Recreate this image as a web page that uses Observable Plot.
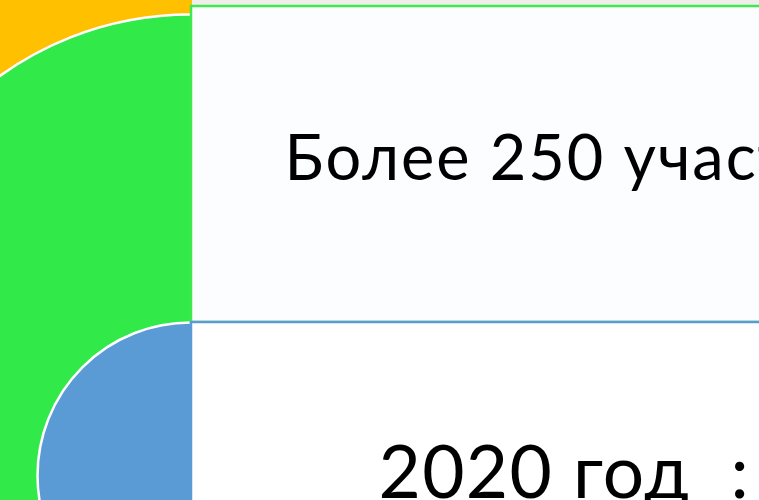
<!DOCTYPE html>
<html>
<head>
<meta charset="utf-8">
<script src="https://cdn.jsdelivr.net/npm/d3@7"></script>
<script src="https://cdn.jsdelivr.net/npm/@observablehq/plot@0.6"></script>
<style>
  html, body { margin: 0; padding: 0; background: #ffffff; overflow: hidden; }
  #chart svg { display: block; }
  .lbl-0 text { letter-spacing: 2px; }
  .lbl-1 text { letter-spacing: 1.3px; }
</style>
</head>
<body>
<div id="chart"></div>
<script>
// Slide content (text) and shape descriptors
const labels = ["Более 250 участников", "2020 год  :"];
const labelSizes = [63, 73];
const discNames = ["green", "blue"];
const discColors = ["#32e94a", "#5b9bd5"];
const panelNames = ["top", "bottom"];
const panelFills = ["#fcfdfe", "#ffffff"];
const panelStrokes = ["#3fe94d", "#5b9bd5"];

// geometry in slide pixel space (identity scales)
const discX = [190, 190];
const discY = [340, 475];
const discR = [326, 153];
const panelX1 = [191, 191];
const panelX2 = [765, 765];
const panelY1 = [6, 322];
const panelY2 = [322, 505];
const labelX = [284, 378];
const labelY = [179, 497];

const discs = discNames.map((n, i) => ({name: n, x: discX[i], y: discY[i], r: discR[i], fill: discColors[i]}));
const panels = panelNames.map((n, i) => ({name: n, x1: panelX1[i], x2: panelX2[i], y1: panelY1[i], y2: panelY2[i], fill: panelFills[i], stroke: panelStrokes[i]}));
const texts = labels.map((t, i) => ({text: t, x: labelX[i], y: labelY[i], size: labelSizes[i], i}));

const chart = Plot.plot({
  width: 759,
  height: 500,
  margin: 0,
  style: {background: "#ffffff", overflow: "hidden"},
  x: {type: "linear", domain: [0, 759], range: [0, 759], axis: null},
  y: {type: "linear", domain: [0, 500], range: [0, 500], axis: null},
  marks: [
    // yellow backdrop on the left and grey strip on top
    Plot.rect([{x1: 0, x2: 192, y1: 0, y2: 360}], {x1: "x1", x2: "x2", y1: "y1", y2: "y2", fill: "#ffc000"}),
    Plot.rect([{x1: 192, x2: 759, y1: 0, y2: 8}], {x1: "x1", x2: "x2", y1: "y1", y2: "y2", fill: "#efeeed"}),
    // discs
    ...discs.map(d => Plot.dot([d], {x: "x", y: "y", r: d.r, fill: d.fill, fillOpacity: 1, stroke: "#ffffff", strokeWidth: 2.5})),
    // panels
    ...panels.map(p => Plot.rect([p], {x1: "x1", x2: "x2", y1: "y1", y2: "y2", fill: p.fill, stroke: p.stroke, strokeWidth: 2.5})),
    // texts
    ...texts.map(t => Plot.text([t], {x: "x", y: "y", text: "text", textAnchor: "start", lineAnchor: "bottom", fontSize: t.size, fill: "#000000", fontFamily: "Lato, 'Open Sans', sans-serif", className: "lbl-" + t.i}))
  ]
});
document.getElementById("chart").appendChild(chart);
</script>
</body>
</html>
